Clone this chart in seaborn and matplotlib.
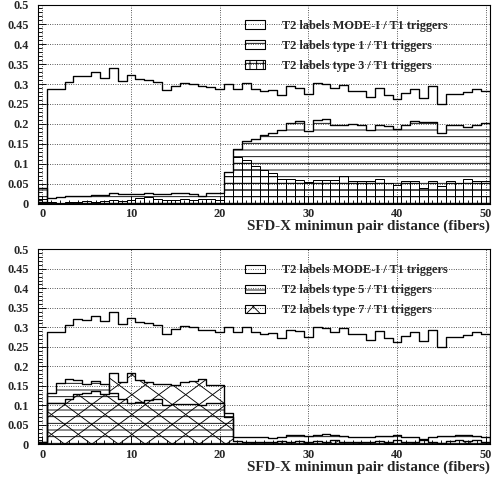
import numpy as np
import matplotlib
matplotlib.use("Agg")
import matplotlib.pyplot as plt
import seaborn as sns
from matplotlib.patches import Patch, PathPatch
from matplotlib.collections import LineCollection
from matplotlib.ticker import MultipleLocator, FuncFormatter

# SFD-X minimum pair distance bins (fibers), one bin per integer distance
distance = list(range(0, 51))
bin_edges = [d - 0.5 for d in range(0, 52)]

# T2 label rates relative to T1 triggers
mode1 = [0.005, 0.288, 0.288, 0.305, 0.321, 0.320, 0.330, 0.316, 0.340, 0.308,
         0.324, 0.314, 0.310, 0.306, 0.284, 0.295, 0.303, 0.300, 0.294, 0.293,
         0.288, 0.300, 0.288, 0.302, 0.287, 0.283, 0.286, 0.272, 0.294, 0.291,
         0.274, 0.302, 0.299, 0.289, 0.297, 0.282, 0.283, 0.268, 0.291, 0.272,
         0.262, 0.278, 0.288, 0.265, 0.294, 0.250, 0.276, 0.274, 0.281, 0.287,
         0.283]
type1 = [0.038, 0.015, 0.016, 0.018, 0.019, 0.019, 0.022, 0.021, 0.026, 0.023,
         0.024, 0.024, 0.026, 0.024, 0.023, 0.026, 0.026, 0.023, 0.018, 0.026,
         0.027, 0.080, 0.136, 0.158, 0.163, 0.173, 0.178, 0.184, 0.202, 0.207,
         0.183, 0.209, 0.213, 0.196, 0.198, 0.200, 0.198, 0.185, 0.198, 0.194,
         0.186, 0.198, 0.208, 0.205, 0.205, 0.178, 0.198, 0.198, 0.193, 0.198,
         0.202]
type3 = [0.012, 0.003, 0.002, 0.003, 0.005, 0.006, 0.005, 0.007, 0.008, 0.006,
         0.009, 0.015, 0.016, 0.012, 0.008, 0.010, 0.011, 0.009, 0.011, 0.012,
         0.010, 0.078, 0.117, 0.109, 0.094, 0.083, 0.077, 0.062, 0.061, 0.058,
         0.054, 0.058, 0.058, 0.060, 0.068, 0.056, 0.056, 0.056, 0.062, 0.052,
         0.046, 0.056, 0.056, 0.038, 0.056, 0.043, 0.056, 0.052, 0.062, 0.056,
         0.056]
type5 = [0.006, 0.131, 0.156, 0.167, 0.165, 0.154, 0.162, 0.155, 0.131, 0.115,
         0.105, 0.108, 0.113, 0.115, 0.100, 0.103, 0.104, 0.103, 0.100, 0.105,
         0.105, 0.080, 0.018, 0.020, 0.018, 0.018, 0.015, 0.020, 0.023, 0.024,
         0.021, 0.023, 0.026, 0.023, 0.021, 0.020, 0.018, 0.018, 0.021, 0.021,
         0.025, 0.020, 0.018, 0.014, 0.020, 0.021, 0.021, 0.023, 0.023, 0.021,
         0.020]
type7 = [0.003, 0.105, 0.105, 0.115, 0.128, 0.131, 0.136, 0.128, 0.182, 0.160,
         0.182, 0.165, 0.160, 0.154, 0.154, 0.151, 0.161, 0.162, 0.168, 0.151,
         0.151, 0.070, 0.008, 0.006, 0.007, 0.005, 0.006, 0.008, 0.007, 0.009,
         0.006, 0.008, 0.007, 0.010, 0.006, 0.005, 0.007, 0.006, 0.008, 0.006,
         0.010, 0.005, 0.007, 0.012, 0.006, 0.004, 0.008, 0.010, 0.008, 0.011,
         0.007]

labels_top = ["T2 labels MODE-I / T1 triggers",
              "T2 labels type 1 / T1 triggers",
              "T2 labels type 3 / T1 triggers"]
labels_bottom = ["T2 labels MODE-I / T1 triggers",
                 "T2 labels type 5 / T1 triggers",
                 "T2 labels type 7 / T1 triggers"]
xlabel = "SFD-X minimun pair distance (fibers)"

sns.set_theme(style="white")
plt.rcParams["font.family"] = ["Liberation Serif", "DejaVu Serif"]
plt.rcParams["font.weight"] = "bold"
plt.rcParams["hatch.linewidth"] = 0.8
plt.rcParams["hatch.color"] = "black"

DPI = 80
fig = plt.figure(figsize=(492 / DPI, 482 / DPI), dpi=DPI)
W, H = 492.0, 482.0
ax_top = fig.add_axes([38 / W, 1 - 203.5 / H, 452 / W, 199 / H])
ax_bot = fig.add_axes([38 / W, 1 - 444.3 / H, 452 / W, 195 / H])


def hist(ax, values, element="step", hatch=None, lw=1.2):
    sns.histplot(x=distance, weights=values, bins=bin_edges, element=element,
                 fill=True, color="black", facecolor="none",
                 edgecolor="black", linewidth=lw, hatch=hatch, ax=ax)
    return ax.collections[-1] if element == "step" else None


def cross_hatch(ax, coll, step_x=3.03, slope=0.0168):
    """Wide diagonal cross hatching clipped to a filled histogram outline."""
    clip = PathPatch(coll.get_paths()[0], transform=ax.transData,
                     facecolor="none", edgecolor="none")
    ax.add_patch(clip)
    segs = []
    y_top = 0.5
    for k in range(-60, 80):
        a = -0.5 + k * step_x
        segs.append([(a, 0.0), (a + y_top / slope, y_top)])
        segs.append([(a, 0.0), (a - y_top / slope, y_top)])
    lc = LineCollection(segs, colors="black", linewidths=0.8)
    lc.set_clip_path(clip)
    ax.add_collection(lc)


# upper panel
hist(ax_top, mode1)
hist(ax_top, type1, hatch="--")
hist(ax_top, type3, element="bars", hatch="--", lw=0.9)

# lower panel
hist(ax_bot, mode1)
hist(ax_bot, type5, hatch="--")
c7 = hist(ax_bot, type7)
cross_hatch(ax_bot, c7)

fmt = FuncFormatter(lambda v, p: "0" if abs(v) < 1e-9 else f"{v:g}")
for ax, labels, hatches in ((ax_top, labels_top, [None, "--", "++"]),
                            (ax_bot, labels_bottom, [None, "--", "x"])):
    ax.set_xlim(-0.5, 50.5)
    ax.set_ylim(0, 0.5)
    ax.xaxis.set_major_locator(MultipleLocator(10))
    ax.xaxis.set_minor_locator(MultipleLocator(1))
    ax.yaxis.set_major_locator(MultipleLocator(0.05))
    ax.yaxis.set_minor_locator(MultipleLocator(0.01))
    ax.yaxis.set_major_formatter(fmt)
    ax.tick_params(which="both", direction="in", top=False, right=False,
                   left=True, bottom=True, width=0.8, color="black",
                   labelsize=11, pad=8)
    ax.tick_params(which="major", length=7)
    ax.tick_params(which="minor", length=3.5)
    ax.tick_params(axis="x", pad=4)
    ax.grid(True, which="major", color="black", linestyle=(0, (1, 2)),
            linewidth=0.7)
    ax.set_axisbelow(True)
    for s in ax.spines.values():
        s.set_color("black")
        s.set_linewidth(1.0)
    ax.set_ylabel("")
    ax.set_xlabel(xlabel, loc="right", fontsize=13.5, fontweight="bold",
                  labelpad=0)
    handles = [Patch(facecolor="none", edgecolor="black", hatch=h, lw=1.0)
               for h in hatches]
    ax.legend(handles, labels, loc="upper left",
              bbox_to_anchor=((245 - 38) / 452, 1 - 15.5 / 199),
              frameon=False, fontsize=11, handlelength=1.64,
              handleheight=0.7, handletextpad=1.39, labelspacing=0.64,
              borderpad=0, borderaxespad=0)

fig.savefig("out.png", dpi=DPI)
